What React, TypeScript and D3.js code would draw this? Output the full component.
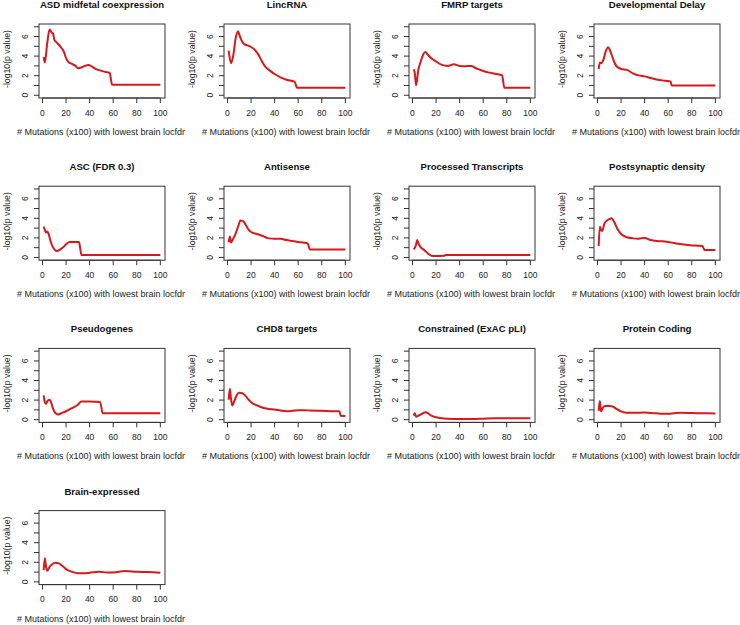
import React from 'react';
import * as d3 from 'd3';

// ---- data ----
const panelTitles = [
  'ASD midfetal coexpression', 'LincRNA', 'FMRP targets', 'Developmental Delay',
  'ASC (FDR 0.3)', 'Antisense', 'Processed Transcripts', 'Postsynaptic density',
  'Pseudogenes', 'CHD8 targets', 'Constrained (ExAC pLI)', 'Protein Coding',
  'Brain-expressed',
];

const xTicks = [0, 20, 40, 60, 80, 100];
const yTicks = [0, 1, 2, 3, 4, 5, 6, 7];
const yTickLabels = [0, 2, 4, 6];
const xLabel = '# Mutations (x100) with lowest brain locfdr';
const yLabel = '-log10(p value)';

const asdX = [1, 2, 4, 6, 8, 9, 10, 12, 15, 18, 20, 22, 25, 28, 30, 33, 36, 39, 42, 45, 50, 55, 57, 58, 59, 100];
const asdY = [3.9, 3.34, 5.3, 6.72, 6.38, 6.3, 5.69, 5.4, 5.0, 4.48, 3.8, 3.4, 3.2, 3.0, 2.76, 2.83, 3.0, 3.1, 2.93, 2.7, 2.5, 2.34, 2.3, 1.7, 1.07, 1.07];

const lincX = [1, 3, 5, 7, 9, 10, 12, 14, 17, 20, 23, 26, 29, 32, 36, 40, 45, 50, 55, 57, 59, 100];
const lincY = [4.55, 3.28, 4.14, 5.86, 6.55, 6.2, 5.6, 5.24, 5.1, 4.93, 4.66, 4.2, 3.52, 2.93, 2.52, 2.17, 1.83, 1.59, 1.45, 1.38, 0.76, 0.76];

const fmrpX = [1, 2, 3, 5, 7, 9, 11, 13, 16, 20, 25, 30, 35, 40, 45, 50, 55, 60, 65, 70, 75, 76, 78, 100];
const fmrpY = [2.66, 2.24, 1.03, 2.6, 3.45, 4.14, 4.41, 4.14, 3.79, 3.45, 3.1, 3.0, 3.17, 3.0, 2.97, 3.0, 2.69, 2.48, 2.31, 2.2, 2.07, 2.03, 0.76, 0.76];

const ddX = [1, 2, 3, 5, 7, 9, 10, 12, 14, 16, 18, 20, 25, 30, 35, 40, 45, 50, 55, 60, 62, 63, 100];
const ddY = [2.66, 3.34, 3.28, 3.62, 4.48, 4.9, 4.76, 4.14, 3.45, 3.0, 2.79, 2.69, 2.59, 2.24, 2.03, 1.93, 1.76, 1.62, 1.52, 1.45, 1.41, 1.0, 1.0];

const ascX = [1, 2, 3, 4, 5, 7, 9, 12, 15, 18, 20, 23, 26, 31, 32, 33, 100];
const ascY = [3.15, 2.81, 2.54, 2.64, 2.47, 1.61, 1.03, 0.65, 0.82, 1.1, 1.34, 1.58, 1.58, 1.58, 0.93, 0.24, 0.24];

const antiX = [1, 2, 3, 5, 7, 9, 11, 13, 15, 18, 20, 25, 30, 35, 40, 45, 50, 55, 60, 65, 68, 70, 100];
const antiY = [1.54, 2.13, 1.54, 1.95, 2.47, 3.15, 3.77, 3.74, 3.43, 2.81, 2.6, 2.4, 2.19, 1.95, 1.92, 1.92, 1.78, 1.68, 1.58, 1.51, 1.44, 0.82, 0.82];

const procX = [1, 3, 4, 5, 7, 10, 13, 16, 20, 27, 28, 100];
const procY = [0.82, 1.27, 1.78, 1.44, 1.03, 0.75, 0.41, 0.17, 0.14, 0.17, 0.24, 0.24];

const psdX = [1, 2, 3, 4, 6, 8, 10, 12, 14, 17, 20, 25, 30, 35, 40, 45, 50, 55, 60, 65, 70, 75, 80, 85, 89, 91, 100];
const psdY = [1.17, 3.15, 2.81, 2.71, 3.5, 3.77, 3.91, 4.01, 3.67, 2.91, 2.4, 2.06, 1.95, 1.92, 1.99, 1.78, 1.68, 1.65, 1.58, 1.47, 1.37, 1.3, 1.23, 1.2, 1.17, 0.75, 0.75];

const pseuX = [1, 2, 3, 4, 6, 7, 9, 11, 13, 16, 20, 25, 30, 33, 35, 40, 45, 49, 51, 100];
const pseuY = [2.48, 1.79, 1.62, 1.86, 2.03, 1.86, 1.1, 0.66, 0.52, 0.66, 0.86, 1.17, 1.52, 1.86, 1.86, 1.86, 1.83, 1.79, 0.66, 0.66];

const chd8X = [1, 2, 3, 4, 6, 8, 10, 12, 15, 18, 20, 25, 30, 35, 40, 45, 50, 55, 60, 65, 70, 80, 90, 95, 96, 100];
const chd8Y = [2.03, 3.17, 2.14, 1.45, 1.97, 2.55, 2.76, 2.72, 2.48, 2.03, 1.79, 1.45, 1.21, 1.1, 1.03, 0.93, 0.86, 0.9, 0.97, 0.97, 0.93, 0.9, 0.86, 0.86, 0.41, 0.38];

const consX = [1, 2, 3, 5, 8, 11, 13, 16, 20, 25, 30, 40, 50, 60, 70, 80, 90, 100];
const consY = [0.41, 0.66, 0.31, 0.41, 0.59, 0.76, 0.66, 0.41, 0.24, 0.14, 0.1, 0.07, 0.07, 0.1, 0.14, 0.14, 0.14, 0.14];

const protX = [1, 2, 3, 5, 7, 10, 13, 16, 20, 25, 30, 40, 45, 50, 55, 60, 65, 70, 80, 90, 100];
const protY = [0.9, 1.9, 0.85, 1.3, 1.4, 1.4, 1.35, 1.1, 0.85, 0.7, 0.7, 0.72, 0.68, 0.65, 0.6, 0.6, 0.65, 0.7, 0.68, 0.65, 0.62];

const brainX = [1, 2, 3, 4, 6, 8, 11, 14, 17, 20, 25, 30, 35, 40, 48, 55, 60, 70, 80, 90, 100];
const brainY = [1.2, 2.4, 1.54, 1.13, 1.54, 1.78, 1.95, 1.89, 1.61, 1.3, 1.03, 0.89, 0.89, 0.93, 1.03, 0.96, 0.96, 1.1, 1.03, 1.0, 0.93];

const seriesX = [asdX, lincX, fmrpX, ddX, ascX, antiX, procX, psdX, pseuX, chd8X, consX, protX, brainX];
const seriesY = [asdY, lincY, fmrpY, ddY, ascY, antiY, procY, psdY, pseuY, chd8Y, consY, protY, brainY];

// ---- layout ----
const W = 740;
const H = 625;
const COL_STEP = 185;
const ROW_STEP = 162.2;
const BOX_L = 39;
const BOX_T = 24;
const BOX_W = 126;
const BOX_H = 74;
const FONT = 'Liberation Sans, Arial, Helvetica, sans-serif';
const LINE_COLOR = '#d7191c';
const AXIS_COLOR = '#333';

const xScale = d3.scaleLinear().domain([1 - 0.04 * 99, 100 + 0.04 * 99]).range([0, BOX_W]);
const yScale = d3.scaleLinear().domain([-0.28, 7.28]).range([BOX_H, 0]);

const lineGen = d3
  .line<[number, number]>()
  .x((d) => xScale(d[0]))
  .y((d) => yScale(d[1]))
  .curve(d3.curveMonotoneX);

function Panel({ idx }: { idx: number }) {
  const c = idx % 4;
  const r = Math.floor(idx / 4);
  const tx = BOX_L + c * COL_STEP;
  const ty = BOX_T + r * ROW_STEP;
  const pts: [number, number][] = seriesX[idx].map((x, i) => [x, seriesY[idx][i]]);
  const d = lineGen(pts) || '';
  return (
    <g transform={`translate(${tx},${ty})`}>
      <text
        x={BOX_W / 2}
        y={-16}
        textAnchor="middle"
        fontFamily={FONT}
        fontWeight="bold"
        fontSize={9.6}
        fill="#111"
      >
        {panelTitles[idx]}
      </text>
      <path d={d} fill="none" stroke={LINE_COLOR} strokeWidth={2} strokeLinejoin="round" />
      <rect x={0} y={0} width={BOX_W} height={BOX_H} fill="none" stroke={AXIS_COLOR} strokeWidth={1} />
      {/* x axis */}
      <line x1={xScale(0)} x2={xScale(100)} y1={BOX_H} y2={BOX_H} stroke={AXIS_COLOR} />
      {xTicks.map((t) => (
        <g key={'x' + t}>
          <line x1={xScale(t)} x2={xScale(t)} y1={BOX_H} y2={BOX_H + 5} stroke={AXIS_COLOR} />
          <text
            x={xScale(t)}
            y={BOX_H + 17.5}
            textAnchor="middle"
            fontFamily={FONT}
            fontSize={8.5}
            fill="#222"
          >
            {t}
          </text>
        </g>
      ))}
      {/* y axis */}
      {yTicks.map((t) => (
        <line key={'y' + t} x1={-5} x2={0} y1={yScale(t)} y2={yScale(t)} stroke={AXIS_COLOR} />
      ))}
      {yTickLabels.map((t) => (
        <text
          key={'yl' + t}
          transform={`translate(${-11},${yScale(t)}) rotate(-90)`}
          textAnchor="middle"
          fontFamily={FONT}
          fontSize={8.5}
          fill="#222"
        >
          {t}
        </text>
      ))}
      <text
        transform={`translate(${-29},${BOX_H / 2 - 2}) rotate(-90)`}
        textAnchor="middle"
        fontFamily={FONT}
        fontSize={8.7}
        fill="#222"
      >
        {yLabel}
      </text>
      <text
        x={BOX_W / 2 - 1}
        y={BOX_H + 37}
        textAnchor="middle"
        fontFamily={FONT}
        fontSize={9}
        fill="#222"
      >
        {xLabel}
      </text>
    </g>
  );
}

export default function App() {
  return (
    <svg
      width={W}
      height={H}
      viewBox={`0 0 ${W} ${H}`}
      style={{ position: 'absolute', left: 0, top: 0, background: '#fff' }}
    >
      <rect width={W} height={H} fill="#fff" />
      {panelTitles.map((_, i) => (
        <Panel key={i} idx={i} />
      ))}
    </svg>
  );
}
